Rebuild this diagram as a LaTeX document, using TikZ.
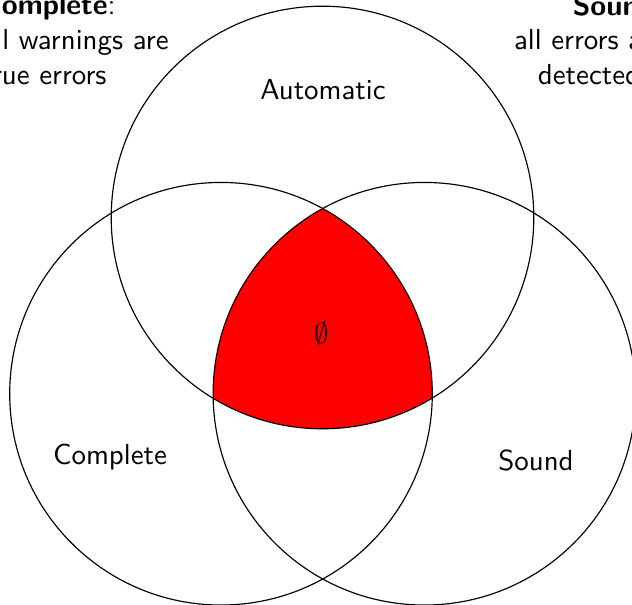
\documentclass[tikz,border=0pt]{standalone}
\begin{document}
\begin{tikzpicture}[x=0.346pt,y=-0.346pt,
  venn/.style={draw=black,line width=0.4pt},
  lbl/.style={font=\sffamily,inner sep=0pt},
  note/.style={font=\sffamily,inner sep=0pt}]
\useasboundingbox (0,0) rectangle (632,605);
\clip (0,0) rectangle (632,605);
\coordinate (ca) at (322.5,217.5);
\coordinate (cc) at (221,393.75);
\coordinate (cs) at (424.4,393.75);
\begin{scope}
  \clip (ca) circle[radius=211.3];
  \clip (cc) circle[radius=211.3];
  \fill[red] (cs) circle[radius=211.3];
\end{scope}
\draw[venn] (ca) circle[radius=211.3];
\draw[venn] (cc) circle[radius=211.3];
\draw[venn] (cs) circle[radius=211.3];
\node[lbl] (auto) at (323,90) {Automatic};
\node[lbl] (comp) at (110,457) {Complete};
\node[lbl] (snd) at (536,460) {Sound};
\node (empty) at (322,333) {$\emptyset$};
\node[note,align=left,anchor=north west] (ncomp) at (-19,-6) {\textbf{Complete}:\\all warnings are\\true errors};
\node[note,align=center,anchor=north] (nsnd) at (589,-6) {\hspace*{20pt}\textbf{Sound}:\\all errors are\\detected};
\end{tikzpicture}
\end{document}
